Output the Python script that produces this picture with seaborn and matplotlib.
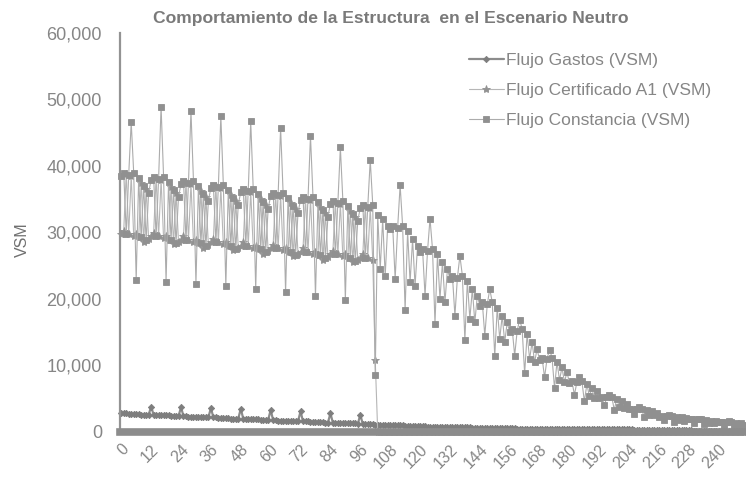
import numpy as np
import pandas as pd
import matplotlib
matplotlib.use("Agg")
import matplotlib.pyplot as plt
import seaborn as sns
from matplotlib.ticker import FuncFormatter

# ---------------- data (values in thousands of VSM, one per month) ----------------
months = list(range(251))

gastos_k = [
    2.8, 2.8, 2.8, 2.7, 2.7, 2.7, 2.7, 2.7, 2.6, 2.6, 2.6, 2.6,
    3.8, 2.6, 2.6, 2.5, 2.5, 2.5, 2.5, 2.5, 2.4, 2.4, 2.4, 2.4,
    3.7, 2.4, 2.4, 2.3, 2.3, 2.3, 2.3, 2.3, 2.2, 2.2, 2.2, 2.2,
    3.6, 2.2, 2.2, 2.1, 2.1, 2.1, 2.1, 2.1, 2.0, 2.0, 2.0, 2.0,
    3.5, 2.0, 2.0, 1.9, 1.9, 1.9, 1.9, 1.9, 1.8, 1.8, 1.8, 1.8,
    3.3, 1.8, 1.8, 1.7, 1.7, 1.7, 1.7, 1.7, 1.7, 1.6, 1.6, 1.6,
    3.1, 1.6, 1.6, 1.6, 1.5, 1.5, 1.5, 1.5, 1.5, 1.5, 1.4, 1.4,
    2.8, 1.4, 1.4, 1.4, 1.4, 1.3, 1.3, 1.3, 1.3, 1.3, 1.3, 1.2,
    2.6, 1.2, 1.2, 1.2, 1.2, 1.2, 1.1, 1.1, 1.1, 1.1, 1.1, 1.1,
    1.0, 1.0, 1.0, 1.0, 1.0, 1.0, 0.9, 0.9, 0.9, 0.9, 0.9, 0.9,
    0.9, 0.9, 0.9, 0.8, 0.8, 0.8, 0.8, 0.8, 0.8, 0.8, 0.8, 0.7,
    0.7, 0.7, 0.7, 0.7, 0.7, 0.7, 0.7, 0.7, 0.7, 0.6, 0.6, 0.6,
    0.6, 0.6, 0.6, 0.6, 0.6, 0.6, 0.6, 0.6, 0.6, 0.6, 0.6, 0.6,
    0.6, 0.6, 0.6, 0.5, 0.5, 0.5, 0.5, 0.5, 0.5, 0.5, 0.5, 0.5,
    0.5, 0.5, 0.5, 0.5, 0.5, 0.5, 0.5, 0.5, 0.5, 0.5, 0.5, 0.5,
    0.5, 0.5, 0.5, 0.5, 0.4, 0.4, 0.4, 0.4, 0.4, 0.4, 0.4, 0.4,
    0.4, 0.4, 0.4, 0.4, 0.4, 0.4, 0.4, 0.4, 0.4, 0.4, 0.4, 0.4,
    0.4, 0.4, 0.3, 0.3, 0.3, 0.3, 0.3, 0.3, 0.3, 0.3, 0.3, 0.3,
    0.3, 0.3, 0.3, 0.3, 0.3, 0.3, 0.3, 0.3, 0.3, 0.3, 0.3, 0.3,
    0.3, 0.3, 0.2, 0.2, 0.2, 0.2, 0.2, 0.2, 0.2, 0.2, 0.2, 0.2,
    0.2, 0.2, 0.2, 0.2, 0.2, 0.2, 0.2, 0.2, 0.2, 0.2, 0.2,
]

certificado_k = [
    29.8, 30.3, 38.8, 29.8, 38.5, 29.5, 29.8, 29.3, 37.5, 28.6, 36.5, 29.0,
    29.4, 29.9, 38.2, 29.4, 37.9, 29.1, 29.4, 28.9, 36.9, 28.2, 35.9, 28.6,
    28.9, 29.4, 37.6, 28.9, 37.3, 28.6, 28.9, 28.4, 36.3, 27.7, 35.3, 28.1,
    28.5, 29.0, 37.0, 28.5, 36.7, 28.2, 28.5, 28.0, 35.7, 27.3, 34.7, 27.7,
    28.0, 28.5, 36.4, 28.0, 36.1, 27.7, 28.0, 27.5, 35.1, 26.8, 34.1, 27.2,
    27.6, 28.1, 35.8, 27.6, 35.5, 27.3, 27.6, 27.1, 34.5, 26.4, 33.5, 26.8,
    27.1, 27.6, 35.2, 27.1, 34.9, 26.8, 27.1, 26.6, 33.9, 25.9, 32.9, 26.3,
    26.7, 27.2, 34.6, 26.7, 34.3, 26.4, 26.7, 26.2, 33.3, 25.5, 32.3, 25.9,
    26.2, 26.7, 34.0, 26.2, 33.7, 25.9, 10.8,
] + [0.0] * 148

constancia_k = [
    38.5, 39.0, 29.8, 38.7, 46.6, 39.0, 22.9, 38.2, 29.3, 37.0, 28.8, 36.0,
    37.9, 38.4, 29.4, 38.1, 48.9, 38.4, 22.6, 37.6, 28.9, 36.4, 28.4, 35.4,
    37.3, 37.8, 28.9, 37.5, 48.3, 37.8, 22.3, 37.0, 28.4, 35.8, 27.9, 34.8,
    36.7, 37.2, 28.5, 36.9, 47.5, 37.2, 22.0, 36.4, 28.0, 35.2, 27.5, 34.2,
    36.1, 36.6, 28.0, 36.3, 46.7, 36.6, 21.5, 35.8, 27.5, 34.6, 27.0, 33.6,
    35.5, 36.0, 27.6, 35.7, 45.7, 36.0, 21.0, 35.2, 27.1, 34.0, 26.6, 33.0,
    34.9, 35.4, 27.1, 35.1, 44.5, 35.4, 20.4, 34.6, 26.6, 33.4, 26.1, 32.4,
    34.3, 34.8, 26.7, 34.5, 42.8, 34.8, 19.9, 34.0, 26.2, 32.8, 25.7, 31.8,
    33.7, 34.2, 26.2, 33.9, 40.9, 34.2, 8.6, 32.6, 24.5, 32.0, 23.5, 31.0,
    30.5, 31.0, 23.0, 30.7, 37.1, 31.0, 18.3, 30.2, 22.5, 29.0, 22.0, 28.0,
    27.0, 27.5, 20.5, 27.2, 32.1, 27.5, 16.3, 26.7, 20.0, 25.5, 19.5, 24.5,
    23.0, 23.5, 17.5, 23.2, 26.5, 23.5, 13.8, 22.7, 17.0, 21.5, 16.5, 20.5,
    19.0, 19.5, 14.5, 19.2, 21.5, 19.5, 11.4, 18.7, 14.0, 17.5, 13.5, 16.5,
    15.0, 15.5, 11.5, 15.2, 16.9, 15.5, 8.8, 14.7, 11.0, 13.5, 10.5, 12.5,
    10.8, 11.2, 8.2, 11.0, 12.4, 11.2, 6.6, 10.6, 7.8, 9.7, 7.5, 9.0,
    7.4, 7.6, 5.6, 7.5, 8.3, 7.6, 4.6, 7.2, 5.4, 6.6, 5.1, 6.1,
    5.1, 5.3, 4.0, 5.2, 5.6, 5.3, 3.3, 5.0, 3.8, 4.6, 3.6, 4.2,
    3.4, 3.5, 2.7, 3.4, 3.7, 3.5, 2.2, 3.3, 2.6, 3.1, 2.5, 2.9,
    2.3, 2.4, 1.8, 2.4, 2.5, 2.4, 1.5, 2.3, 1.8, 2.2, 1.7, 2.1,
    1.9, 1.9, 1.4, 1.9, 2.0, 1.9, 1.2, 1.8, 1.4, 1.7, 1.3, 1.7,
    1.5, 1.5, 1.1, 1.5, 1.6, 1.5, 1.0, 1.4, 1.1, 1.3, 1.0,
]

series_names = ["Flujo Gastos (VSM)", "Flujo Certificado A1 (VSM)", "Flujo Constancia (VSM)"]
x_tick_values = list(range(0, 241, 12))
y_tick_values = [0, 10000, 20000, 30000, 40000, 50000, 60000]
title_text = "Comportamiento de la Estructura  en el Escenario Neutro"
y_label_text = "VSM"

# ---------------- figure ----------------
sns.set_theme(style="white")
plt.rcParams["font.family"] = ["Liberation Sans", "DejaVu Sans"]

fig = plt.figure(figsize=(7.46, 4.83), dpi=100)
ax = fig.add_axes([120 / 746, 51 / 483, 625 / 746, 399 / 483])

text_gray = "#868686"
styles = [
    dict(marker="D", markersize=3.2, color="#8c8c8c", mfc="#7e7e7e", lw=1.6),
    dict(marker="*", markersize=6.0, color="#b6b6b6", mfc="#929292", lw=0.8),
    dict(marker="s", markersize=4.8, color="#acacac", mfc="#909090", lw=0.8),
]
values = [gastos_k, certificado_k, constancia_k]

for name, vals, st in zip(series_names, values, styles):
    y = np.array(vals) * 1000.0
    sns.lineplot(
        x=months, y=y, ax=ax, estimator=None, label=name,
        color=st["color"], linewidth=st["lw"], marker=st["marker"],
        markersize=st["markersize"], markerfacecolor=st["mfc"],
        markeredgecolor=st["mfc"], markeredgewidth=0.6, clip_on=False,
    )

ax.set_xlim(-0.5, 250.5)
ax.set_ylim(0, 60000)
ax.set_xticks(x_tick_values)
ax.set_xticklabels([str(v) for v in x_tick_values], rotation=45, ha="right",
                   rotation_mode="anchor")
ax.set_yticks(y_tick_values)
ax.yaxis.set_major_formatter(FuncFormatter(lambda v, p: f"{v:,.0f}"))
ax.tick_params(axis="both", which="major", direction="out", length=4, width=1,
               color="#9a9a9a", labelcolor=text_gray, pad=3)
ax.tick_params(axis="y", labelsize=13, pad=9)
ax.tick_params(axis="x", labelsize=11.5)

for s in ["top", "right"]:
    ax.spines[s].set_visible(False)
ax.spines["left"].set_color("#939393")
ax.spines["left"].set_linewidth(1.6)
ax.spines["bottom"].set_color("#8c8c8c")
ax.spines["bottom"].set_linewidth(5.5)
ax.set_xlabel("")
ax.set_ylabel("")

ax.legend_.remove()
handles, labels = ax.get_legend_handles_labels()
fig.legend(handles, labels, loc="upper left",
           bbox_to_anchor=(462 / 746, 1 - 46 / 483), frameon=False,
           fontsize=12.5, labelcolor=text_gray, handlelength=2.0,
           handletextpad=0.15, labelspacing=0.86, borderaxespad=0)

fig.text(391 / 746, 1 - 18 / 483, title_text, ha="center", va="center",
         fontsize=12.6, fontweight="bold", color="#7a7a7a")
fig.text(22 / 746, 1 - 240 / 483, y_label_text, ha="center", va="center",
         rotation=90, fontsize=11.5, color="#707070")

fig.savefig("out.png", dpi=100)
